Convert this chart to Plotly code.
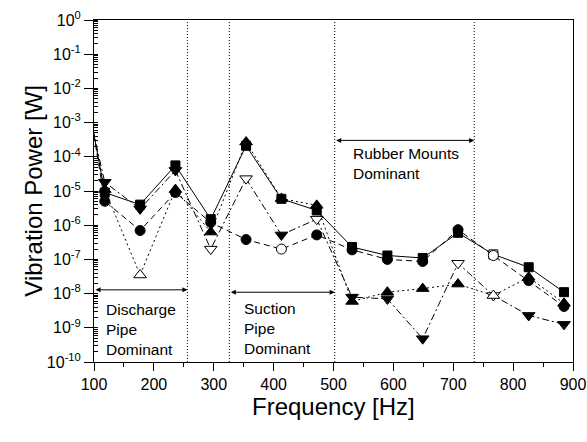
import plotly.graph_objects as go

# ---------------- data ----------------
freq = [59, 118, 177, 236, 295, 354, 413, 472, 531, 590, 649, 708, 767, 826, 885]

total_power = [3.0, 9e-6, 4e-6, 5.6e-5, 1.5e-6, 2.1e-4, 5.9e-6, 2.7e-6, 2.3e-7, 1.3e-7, 1.1e-7, 6e-7, 1.4e-7, 5.9e-8, 1.1e-8]
total_open = [0, 0, 0, 0, 0, 0, 0, 0, 0, 0, 0, 0, 1, 0, 0]

discharge_power = [10.0, 5e-6, 7e-7, 9e-6, 1.2e-6, 3.8e-7, 2e-7, 5.2e-7, 1.9e-7, 1e-7, 8.7e-8, 7.4e-7, 1.3e-7, 2.4e-8, 4.2e-9]
discharge_open = [0, 0, 0, 0, 0, 0, 1, 0, 0, 0, 0, 0, 1, 0, 0]

mounts_power = [0.6, 1.8e-5, 3e-6, 4e-5, 2e-7, 2.3e-5, 5.2e-7, 1.5e-6, 7.9e-9, 7e-9, 4.8e-10, 7.7e-8, 8.8e-9, 2.3e-9, 1.26e-9]
mounts_open = [0, 0, 0, 0, 1, 1, 0, 1, 0, 0, 0, 1, 1, 0, 0]

suction_power = [1.8, 1.1e-5, 3.5e-8, 1.1e-5, 6.3e-7, 2.7e-4, 6e-6, 3.8e-6, 5.9e-9, 1.1e-8, 1.4e-8, 1.9e-8, 8.8e-9, 3e-8, 5.2e-9]
suction_open = [0, 0, 1, 0, 0, 0, 0, 0, 0, 0, 0, 0, 1, 0, 0]

region_bounds = [256, 326, 502, 735]
y_tick_exp = list(range(-10, 1))
x_ticks = [100, 200, 300, 400, 500, 600, 700, 800, 900]

FONT = "Arial, Liberation Sans, sans-serif"

series = [
    (total_power, total_open, "square", 9, "solid"),
    (discharge_power, discharge_open, "circle", 10, "6px,4px"),
    (mounts_power, mounts_open, "triangle-down", 11, "7px,3px,2px,3px"),
    (suction_power, suction_open, "triangle-up", 11, "2px,3px"),
]

fig = go.Figure()
for vals, opn, sym, size, dash in series:
    fig.add_trace(go.Scatter(
        x=freq, y=vals, mode="lines+markers",
        line=dict(color="black", width=1, dash=dash),
        marker=dict(symbol=sym, size=size,
                    color=["white" if o else "black" for o in opn],
                    line=dict(color="black", width=1)),
        showlegend=False,
    ))

shapes = []
for xb in region_bounds:
    shapes.append(dict(type="line", xref="x", yref="paper", x0=xb, x1=xb, y0=0, y1=1,
                       line=dict(color="black", width=1, dash="1px,2px")))

arrow_common = dict(xref="x", yref="y", axref="x", ayref="y", text="", showarrow=True,
                    arrowhead=2, arrowside="end+start", arrowsize=1, arrowwidth=1,
                    arrowcolor="black", standoff=0, startstandoff=0)
annotations = [
    dict(x=256, y=-7.89, ax=100, ay=-7.89, **arrow_common),
    dict(x=502, y=-7.96, ax=326, ay=-7.96, **arrow_common),
    dict(x=735, y=-3.52, ax=502, ay=-3.52, **arrow_common),
]
txt_font = dict(family=FONT, size=15.5, color="black")
annotations += [
    dict(x=116, y=0.094, xref="x", yref="paper", text="Discharge<br>Pipe<br>Dominant",
         showarrow=False, xanchor="left", yanchor="middle", align="left", font=txt_font),
    dict(x=348, y=0.0994, xref="x", yref="paper", text="Suction<br>Pipe<br>Dominant",
         showarrow=False, xanchor="left", yanchor="middle", align="left", font=txt_font),
    dict(x=530, y=0.58, xref="x", yref="paper", text="Rubber Mounts<br>Dominant",
         showarrow=False, xanchor="left", yanchor="middle", align="left", font=txt_font),
    dict(x=0.5, y=-0.13, xref="paper", yref="paper", text="Frequency [Hz]",
         showarrow=False, xanchor="center", yanchor="middle",
         font=dict(family=FONT, size=24, color="black")),
    dict(x=-0.128, y=0.5, xref="paper", yref="paper", text="Vibration Power [W]",
         showarrow=False, xanchor="center", yanchor="middle", textangle=-90,
         font=dict(family=FONT, size=24, color="black")),
]

fig.update_layout(
    width=587, height=442,
    margin=dict(l=94, r=14, t=20, b=80, autoexpand=False),
    paper_bgcolor="white", plot_bgcolor="white",
    font=dict(family=FONT, size=16, color="black"),
    shapes=shapes, annotations=annotations,
)
fig.update_xaxes(
    range=[100, 900], showgrid=False, zeroline=False, automargin=False,
    showline=True, linecolor="black", linewidth=1, mirror=True,
    tickmode="array", tickvals=x_ticks, ticks="outside", ticklen=8, tickcolor="black",
    tickfont=dict(family=FONT, size=16, color="black"),
    minor=dict(dtick=50, tick0=100, ticks="outside", ticklen=4, tickcolor="black", showgrid=False),
)
fig.update_yaxes(
    type="log", range=[-10, 0], showgrid=False, zeroline=False, automargin=False,
    showline=True, linecolor="black", linewidth=1, mirror=True,
    tickmode="array", tickvals=[10.0 ** e for e in y_tick_exp],
    ticktext=["10<sup>%d</sup>" % e for e in y_tick_exp],
    ticks="outside", ticklen=9, tickcolor="black",
    tickfont=dict(family=FONT, size=16, color="black"),
    minor=dict(dtick="D1", ticks="inside", ticklen=4, tickcolor="black", showgrid=False),
)

fig.write_html("out.html")
